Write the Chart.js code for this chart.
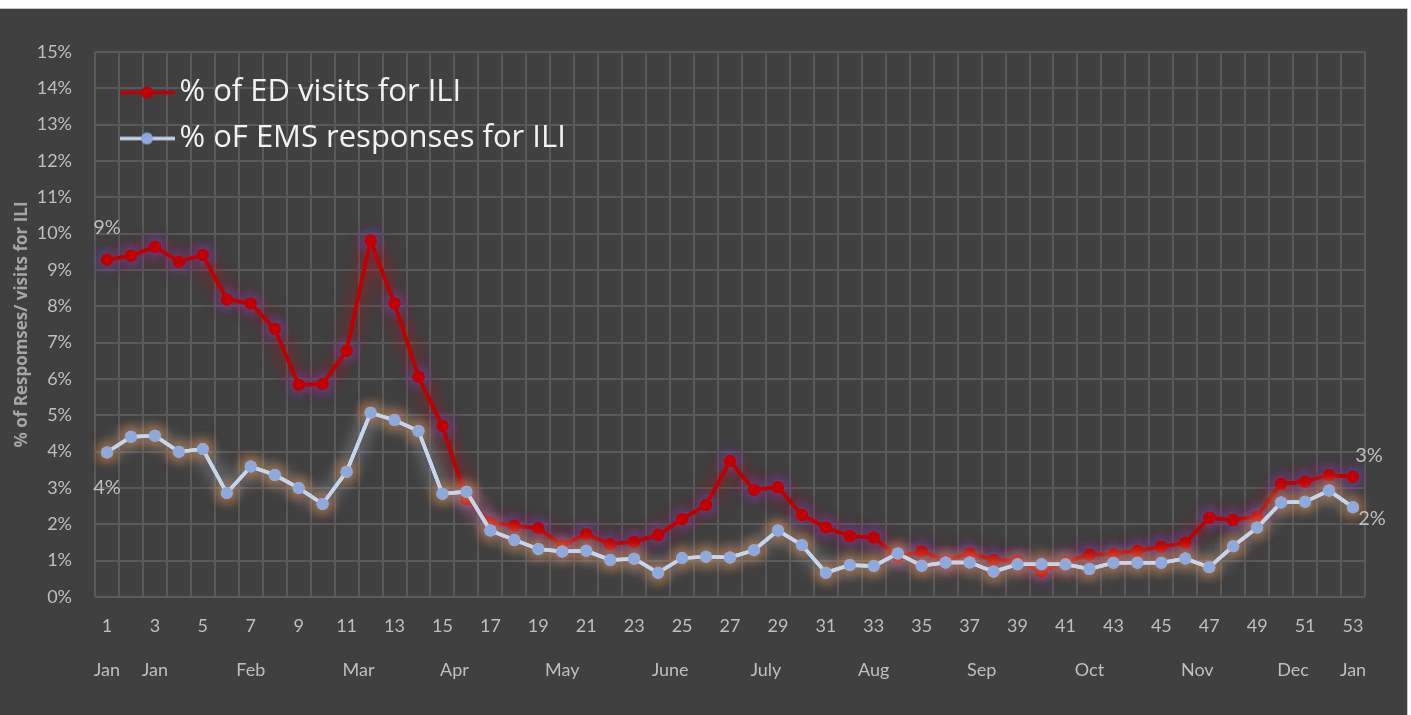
<!DOCTYPE html>
<html>
<head>
<meta charset="utf-8">
<script src="https://cdn.jsdelivr.net/npm/chart.js@4.4.1/dist/chart.umd.min.js"></script>
<style>
  body{margin:0;background:#fff;}
  #wrap{position:absolute;left:0;top:8px;width:1407px;height:706px;background:#404040;border-top:1px solid #c8c8c8;border-right:1px solid #c8c8c8;}
</style>
</head>
<body>
<div id="wrap"><canvas id="myChart"></canvas></div>
<script>
const weeks=['1','2','3','4','5','6','7','8','9','10','11','12','13','14','15','16','17','18','19','20','21','22','23','24','25','26','27','28','29','30','31','32','33','34','35','36','37','38','39','40','41','42','43','44','45','46','47','48','49','50','51','52','53'];
const edVisits=[9.28,9.39,9.64,9.23,9.41,8.19,8.08,7.38,5.84,5.86,6.78,9.81,8.08,6.06,4.71,2.69,2.05,1.96,1.89,1.41,1.73,1.45,1.52,1.71,2.14,2.53,3.74,2.95,3.02,2.26,1.91,1.68,1.64,1.11,1.25,1.00,1.20,1.02,1.00,0.70,0.97,1.16,1.18,1.27,1.38,1.49,2.18,2.12,2.21,3.11,3.17,3.36,3.31];
const emsResponses=[3.98,4.41,4.44,4.00,4.07,2.86,3.59,3.36,3.00,2.56,3.45,5.07,4.87,4.57,2.84,2.90,1.83,1.57,1.32,1.25,1.27,1.02,1.05,0.67,1.07,1.11,1.09,1.29,1.83,1.43,0.67,0.88,0.85,1.20,0.86,0.95,0.95,0.70,0.90,0.90,0.90,0.77,0.94,0.94,0.94,1.06,0.82,1.40,1.91,2.60,2.62,2.93,2.47];
const monthNames=['Jan','Jan','Feb','Mar','Apr','May','June','July','Aug','Sep','Oct','Nov','Dec','Jan'];
const monthWeeks=[1,3,7,11.5,15.5,20,24.5,28.5,33,37.5,42,46.5,50.5,53];
const seriesNames=['% of ED visits for ILI','% oF EMS responses for ILI'];

const tickColor='#bfbfbf';
const gridColor='#595959';

// legend marker: line with a dot
function legendIcon(lineCol,dotCol){
  let c=document.createElement('canvas');
  c.width=76;c.height=14;
  let g=c.getContext('2d');
  g.strokeStyle=lineCol;g.lineWidth=3.5;
  g.beginPath();g.moveTo(21,7);g.lineTo(76,7);g.stroke();
  g.fillStyle=dotCol;
  g.beginPath();g.arc(48,7,6,0,Math.PI*2);g.fill();
  return c;
}
const icons=[legendIcon('#c00000','#c00000'),legendIcon('#c5d5ee','#8eaadc')];

const glows=[
  {line:'rgba(175,25,35,0.9)',point:'rgba(95,75,190,1)'},
  {line:'rgba(195,205,220,0.7)',point:'rgba(220,125,50,1)'}
];

const glowPlugin={
  id:'glow',
  beforeDatasetDraw(chart,args){
    let ctx=chart.ctx;
    let meta=args.meta;
    let gl=glows[args.index];
    let area=chart.chartArea;
    ctx.save();
    for(let k=0;k<2;k++){
      ctx.shadowBlur=18;
      ctx.shadowColor=gl.line;
      meta.dataset.draw(ctx,area);
      ctx.shadowColor=gl.point;
      ctx.shadowBlur=14;
      meta.data.forEach(p=>p.draw(ctx,area));
    }
    ctx.restore();
    meta.dataset.draw(ctx,area);
    meta.data.forEach(p=>p.draw(ctx,area));
    return false;
  }
};

const labelSpecs=[
  {ds:0,idx:0,dx:0,dy:-32},
  {ds:1,idx:0,dx:0,dy:35},
  {ds:0,idx:52,dx:16,dy:-21},
  {ds:1,idx:52,dx:19,dy:11}
];
const dataLabelPlugin={
  id:'dataLabels',
  afterDatasetsDraw(chart){
    let ctx=chart.ctx;
    ctx.save();
    ctx.font='20px Lato';
    ctx.fillStyle=tickColor;
    ctx.textAlign='center';
    ctx.textBaseline='middle';
    labelSpecs.forEach(s=>{
      let pt=chart.getDatasetMeta(s.ds).data[s.idx];
      let v=chart.data.datasets[s.ds].data[s.idx];
      ctx.fillText(Math.round(v)+'%',pt.x+s.dx,pt.y+s.dy);
    });
    ctx.restore();
  }
};

const ctx=document.getElementById('myChart');
new Chart(ctx,{
  type:'line',
  data:{
    labels:weeks,
    datasets:[{
      label:seriesNames[0],
      data:edVisits,
      borderColor:'#c00000',
      backgroundColor:'#c00000',
      borderWidth:3.5,
      pointRadius:6,
      pointBackgroundColor:'#c00000',
      pointBorderWidth:0,
      order:1
    },{
      label:seriesNames[1],
      data:emsResponses,
      borderColor:'#c5d5ee',
      backgroundColor:'#8eaadc',
      borderWidth:3.5,
      pointRadius:6,
      pointBackgroundColor:'#8eaadc',
      pointBorderWidth:0,
      order:0
    }]
  },
  plugins:[glowPlugin,dataLabelPlugin],
  options:{
    responsive:true,
    maintainAspectRatio:false,
    animation:false,
    layout:{padding:{left:0,top:43,right:42,bottom:0}},
    plugins:{
      tooltip:{enabled:false},
      legend:{
        position:'chartArea',
        align:'start',
        title:{display:true,text:'',font:{size:5},padding:{top:47,bottom:0}},
        labels:{
          usePointStyle:true,
          pointStyleWidth:54,
          padding:15,
          color:'#f2f2f2',
          font:{family:'Open Sans',size:31},
          generateLabels:(chart)=>{
            return chart.data.datasets.map((d,i)=>({
              text:d.label,
              fontColor:'#f2f2f2',
              pointStyle:icons[i],
              datasetIndex:i,
              hidden:false,
              lineWidth:0
            }));
          }
        }
      }
    },
    scales:{
      x:{
        type:'category',
        offset:true,
        weight:0,
        grid:{offset:true,color:gridColor,lineWidth:2,drawTicks:false},
        border:{display:false},
        ticks:{
          autoSkip:false,maxRotation:0,padding:18,color:tickColor,
          font:{family:'Lato',size:18},
          callback:(v,i)=>(i%2===0?weeks[i]:'')
        },
        afterFit:(s)=>{s.height=50;}
      },
      m:{
        type:'linear',
        position:'bottom',
        weight:1,
        min:0.5,max:53.5,
        grid:{display:false,drawTicks:false},
        border:{display:false},
        afterBuildTicks:(axis)=>{axis.ticks=monthWeeks.map(v=>({value:v}));},
        ticks:{
          autoSkip:false,maxRotation:0,padding:12,color:tickColor,
          font:{family:'Lato',size:18},
          callback:(v,i)=>monthNames[i]
        },
        afterFit:(s)=>{s.height=68;}
      },
      y:{
        min:0,max:15,
        grid:{color:gridColor,lineWidth:2,drawTicks:false},
        border:{display:false},
        ticks:{
          stepSize:1,padding:23,color:tickColor,
          font:{family:'Lato',size:18},
          callback:v=>v+'%'
        },
        title:{
          display:true,
          text:'% of Respomses/ visits for ILI',
          color:'#a6a6a6',
          font:{family:'Open Sans',size:17,weight:'bold'},
          padding:{top:12,bottom:0}
        },
        afterFit:(s)=>{s.width=95;}
      }
    }
  }
});
</script>
</body>
</html>
